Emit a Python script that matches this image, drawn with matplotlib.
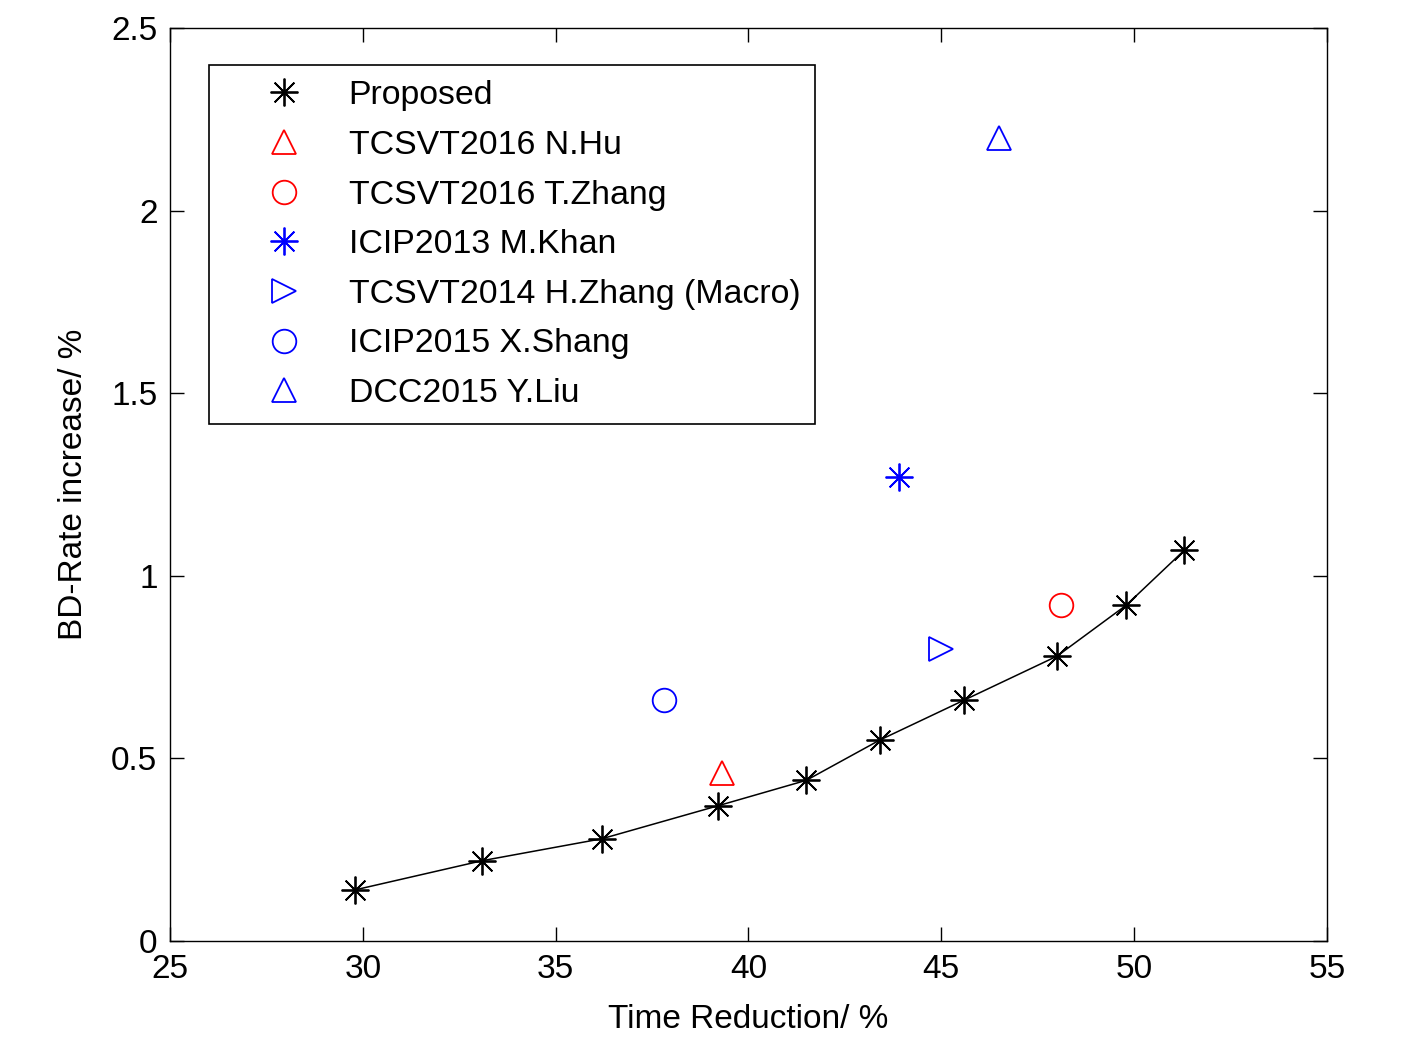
import matplotlib
matplotlib.use("Agg")
import matplotlib.pyplot as plt
from matplotlib.lines import Line2D

plt.rcParams['font.family'] = ['Liberation Sans', 'DejaVu Sans']

# Data
proposed_x = [29.8, 33.1, 36.2, 39.2, 41.5, 43.4, 45.6, 48.0, 49.8, 51.3]
proposed_y = [0.14, 0.22, 0.28, 0.37, 0.44, 0.55, 0.66, 0.78, 0.92, 1.07]

others_labels = ["TCSVT2016 N.Hu", "TCSVT2016 T.Zhang", "ICIP2013 M.Khan",
                 "TCSVT2014 H.Zhang (Macro)", "ICIP2015 X.Shang", "DCC2015 Y.Liu"]
others_x = [39.3, 48.1, 43.9, 45.0, 37.8, 46.5]
others_y = [0.46, 0.92, 1.27, 0.80, 0.66, 2.20]
others_colors = ["red", "red", "blue", "blue", "blue", "blue"]
others_markers = ["^", "o", (8, 2, 0), ">", "o", "^"]

xticks = [25, 30, 35, 40, 45, 50, 55]
yticks = [0, 0.5, 1, 1.5, 2, 2.5]
yticklabels = ["0", "0.5", "1", "1.5", "2", "2.5"]

W, H = 1421, 1043
fig = plt.figure(figsize=(W / 100, H / 100), dpi=100)
ax = fig.add_axes([170 / W, 1 - 941 / H, (1327 - 170) / W, (941 - 28) / H])

star = (8, 2, 0)
ax.plot(proposed_x, proposed_y, color="black", lw=1.1, zorder=2)
ax.plot(proposed_x, proposed_y, linestyle="none", marker=star, markersize=20,
        markeredgewidth=1.3, color="black", zorder=3)

handles = [Line2D([], [], linestyle="none", marker=star, markersize=20,
                  markeredgewidth=1.3, color="black", label="Proposed")]
for lab, xv, yv, c, m in zip(others_labels, others_x, others_y, others_colors, others_markers):
    ms = 20 if m == star else 17
    ax.plot([xv], [yv], linestyle="none", marker=m, markersize=ms,
            markerfacecolor="none", markeredgecolor=c, markeredgewidth=1.3, zorder=3)
    handles.append(Line2D([], [], linestyle="none", marker=m, markersize=ms,
                          markerfacecolor="none", markeredgecolor=c,
                          markeredgewidth=1.3, label=lab))

ax.set_xlim(25, 55)
ax.set_ylim(0, 2.5)
ax.set_xticks(xticks)
ax.set_yticks(yticks)
ax.set_yticklabels(yticklabels)
ax.tick_params(direction="in", top=True, right=True, length=10, width=1,
               labelsize=24, pad=9)
for s in ax.spines.values():
    s.set_linewidth(1.0)

ax.set_xlabel("Time Reduction/ %", fontsize=24, labelpad=14)
ax.set_ylabel("BD-Rate increase/ %", fontsize=24, labelpad=16)

leg = ax.legend(handles=handles, loc="upper left",
                bbox_to_anchor=(209 / W, 1 - 65 / H), bbox_transform=fig.transFigure,
                borderaxespad=0, fontsize=24.4, frameon=True, fancybox=False,
                edgecolor="black", framealpha=1, handlelength=3.55, handletextpad=0.12,
                labelspacing=0.55, borderpad=0.45)
leg.get_frame().set_linewidth(1.2)

fig.savefig("out.png", dpi=100, facecolor="white")
